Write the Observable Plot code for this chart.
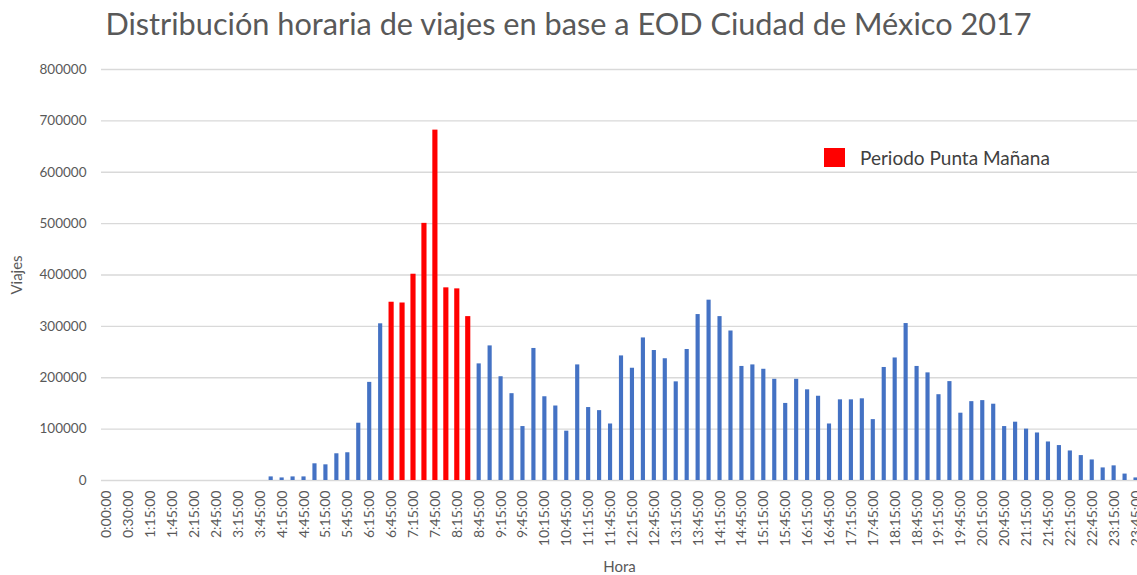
<!DOCTYPE html>
<html>
<head>
<meta charset="utf-8">
<script src="https://cdn.jsdelivr.net/npm/d3@7"></script>
<script src="https://cdn.jsdelivr.net/npm/@observablehq/plot@0.6"></script>
<style>
  html, body { margin: 0; padding: 0; background: #fff; overflow: hidden; }
  #wrap { position: relative; width: 1137px; height: 575px; font-family: Lato, "Open Sans", sans-serif; }
  #title { height: 48px; line-height: 48px; text-align: center; font-size: 30.7px; color: #595959; white-space: nowrap; }
  #legend { position: absolute; left: 824px; top: 146px; display: flex; align-items: center; font-size: 19px; color: #404040; }
  #legend .sw { width: 21px; height: 19px; background: #FF0000; margin-right: 15px; }
  #chart { position: absolute; left: 0; top: 50px; }
</style>
</head>
<body>
<div id="wrap">
  <div id="title">Distribución horaria de viajes en base a EOD Ciudad de México 2017</div>
  <div id="chart"></div>
  <div id="legend"><div class="sw"></div><span>Periodo Punta Mañana</span></div>
</div>
<script>
const categories = [
  "0:00:00","0:15:00","0:30:00","0:45:00","1:15:00","1:30:00","1:45:00","2:00:00","2:15:00","2:30:00",
  "2:45:00","3:00:00","3:15:00","3:30:00","3:45:00","4:00:00","4:15:00","4:30:00","4:45:00","5:00:00",
  "5:15:00","5:30:00","5:45:00","6:00:00","6:15:00","6:30:00","6:45:00","7:00:00","7:15:00","7:30:00",
  "7:45:00","8:00:00","8:15:00","8:30:00","8:45:00","9:00:00","9:15:00","9:30:00","9:45:00","10:00:00",
  "10:15:00","10:30:00","10:45:00","11:00:00","11:15:00","11:30:00","11:45:00","12:00:00","12:15:00","12:30:00",
  "12:45:00","13:00:00","13:15:00","13:30:00","13:45:00","14:00:00","14:15:00","14:30:00","14:45:00","15:00:00",
  "15:15:00","15:30:00","15:45:00","16:00:00","16:15:00","16:30:00","16:45:00","17:00:00","17:15:00","17:30:00",
  "17:45:00","18:00:00","18:15:00","18:30:00","18:45:00","19:00:00","19:15:00","19:30:00","19:45:00","20:00:00",
  "20:15:00","20:30:00","20:45:00","21:00:00","21:15:00","21:30:00","21:45:00","22:00:00","22:15:00","22:30:00",
  "22:45:00","23:00:00","23:15:00","23:30:00","23:45:00"
];
const viajes = [
  0,0,0,0,0,0,0,0,0,0,
  0,0,0,0,0,7000,5000,7000,7000,32500,
  30500,52000,54000,111500,191000,305000,347000,345500,401500,500500,
  682000,375000,373000,319000,227000,262000,202000,169000,105000,257000,
  163000,145000,96000,225000,142000,136000,110000,242500,218500,277500,
  253000,237000,192000,255000,323000,351000,319000,291000,222000,225000,
  216500,197000,150000,197000,176500,164000,110000,157000,157000,159000,
  118500,220000,238500,305500,222000,209500,167000,192500,131000,153500,
  155500,148500,105000,113500,100000,92500,75000,68000,57500,48500,
  40000,24500,28500,12500,5000
];
const puntaManana = ["6:45:00","7:00:00","7:15:00","7:30:00","7:45:00","8:00:00","8:15:00","8:30:00"];
const yTicks = [0,100000,200000,300000,400000,500000,600000,700000,800000];
const xTicks = categories.filter((d, i) => i % 2 === 0);

const data = categories.map((h, i) => ({hora: h, viajes: viajes[i], punta: puntaManana.includes(h)}));

const chart = Plot.plot({
  width: 1137,
  height: 525,
  marginTop: 19,
  marginBottom: 95,
  marginLeft: 101,
  marginRight: 0,
  style: {fontFamily: "Lato, 'Open Sans', sans-serif", fontSize: "13px", color: "#595959", background: "white"},
  x: {domain: categories, range: [101, 1141], padding: 0},
  y: {domain: [0, 800000]},
  marks: [
    Plot.gridY(yTicks, {stroke: "#d9d9d9", strokeOpacity: 1, strokeWidth: 1.3}),
    Plot.barY(data.filter(d => !d.punta), {x: "hora", y: "viajes", fill: "#4472C4", insetLeft: 3.4, insetRight: 3.4}),
    Plot.barY(data.filter(d => d.punta), {x: "hora", y: "viajes", fill: "#FF0000", insetLeft: 2.9, insetRight: 2.9}),
    Plot.axisY({ticks: yTicks, tickSize: 0, tickPadding: 15, tickFormat: d => String(d), fontSize: 13.5, label: null}),
    Plot.axisY({ticks: [], tickSize: 0, label: "Viajes", labelAnchor: "center", labelArrow: "none", labelOffset: 90, fontSize: 15}),
    Plot.axisX({ticks: xTicks, tickSize: 0, tickRotate: -90, tickPadding: 10, fontSize: 14, label: null}),
    Plot.axisX({ticks: [], tickSize: 0, label: "Hora", labelAnchor: "center", labelArrow: "none", labelOffset: 91, fontSize: 15})
  ]
});
document.getElementById("chart").appendChild(chart);
</script>
</body>
</html>
